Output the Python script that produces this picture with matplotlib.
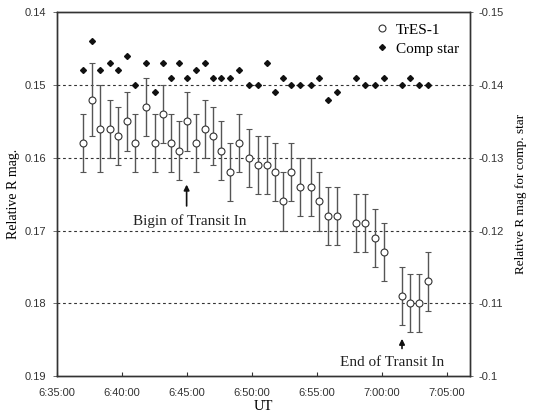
import matplotlib
matplotlib.use('Agg')
import matplotlib.pyplot as plt
from matplotlib.lines import Line2D

# Observation times (UT)
times = ['6:37:03', '6:37:43', '6:38:20', '6:39:07', '6:39:43', '6:40:23', '6:41:03',
         '6:41:52', '6:42:32', '6:43:11', '6:43:46', '6:44:24', '6:45:04', '6:45:43',
         '6:46:23', '6:47:01', '6:47:40', '6:48:20', '6:49:00', '6:49:49', '6:50:29',
         '6:51:09', '6:51:46', '6:52:23', '6:53:00', '6:53:42', '6:54:35', '6:55:13',
         '6:55:53', '6:56:34', '6:58:03', '6:58:42', '6:59:29', '7:00:11', '7:01:34',
         '7:02:13', '7:02:52', '7:03:32']

# TrES-1 relative R magnitude and error
tres_mag = [0.158, 0.152, 0.156, 0.156, 0.157, 0.155, 0.158, 0.153, 0.158, 0.154,
            0.158, 0.159, 0.155, 0.158, 0.156, 0.157, 0.159, 0.162, 0.158, 0.160,
            0.161, 0.161, 0.162, 0.166, 0.162, 0.164, 0.164, 0.166, 0.168, 0.168,
            0.169, 0.169, 0.171, 0.173, 0.179, 0.180, 0.180, 0.177]
tres_err = [0.004, 0.005, 0.006, 0.004, 0.004, 0.004, 0.004, 0.004, 0.004, 0.004,
            0.004, 0.004, 0.004, 0.004, 0.004, 0.004, 0.004, 0.004, 0.004, 0.004,
            0.004, 0.004, 0.004, 0.004, 0.004, 0.004, 0.004, 0.004, 0.004, 0.004,
            0.004, 0.004, 0.004, 0.004, 0.004, 0.004, 0.004, 0.004]

# Comparison star relative R magnitude (right axis)
comp_mag = [-0.142, -0.146, -0.142, -0.143, -0.142, -0.144, -0.140, -0.143, -0.139, -0.143,
            -0.141, -0.143, -0.141, -0.142, -0.143, -0.141, -0.141, -0.141, -0.142, -0.140,
            -0.140, -0.143, -0.139, -0.141, -0.140, -0.140, -0.140, -0.141, -0.138, -0.139,
            -0.141, -0.140, -0.140, -0.141, -0.140, -0.141, -0.140, -0.140]

x_ticks = ['6:35:00', '6:40:00', '6:45:00', '6:50:00', '6:55:00', '7:00:00', '7:05:00']
left_ticks = [0.14, 0.15, 0.16, 0.17, 0.18, 0.19]
right_ticks = [-0.15, -0.14, -0.13, -0.12, -0.11, -0.1]


def to_minutes(s):
    # minutes after 6:35:00
    h, m, sec = [int(v) for v in s.split(':')]
    return (h * 60 + m + sec / 60.0) - (6 * 60 + 35)


x = [to_minutes(t) for t in times]
xt = [to_minutes(t) for t in x_ticks]

serif = 'Liberation Serif'
sans = 'Liberation Sans'

fig = plt.figure(figsize=(5.34, 4.13), dpi=100)
ax = fig.add_axes([0.106, 0.0896, 0.774, 0.8806])
ax2 = ax.twinx()

ax.errorbar(x, tres_mag, yerr=tres_err, fmt='o', mfc='white', mec='#333333',
            ms=5, mew=0.8, ecolor='#555555', elinewidth=1.0, capsize=2.5,
            capthick=1.0, zorder=3)
ax2.plot(x, comp_mag, 'D', color='#111111', ms=3, zorder=3)

ax.set_xlim(0, 31.79)
ax.set_ylim(0.19, 0.14)
ax2.set_ylim(-0.10, -0.15)

for v in left_ticks[1:-1]:
    ax.axhline(v, color='#333333', lw=0.8, ls=(0, (2.5, 2.5)), zorder=1)

ax.set_xticks(xt)
ax.set_xticklabels(x_ticks, fontfamily=sans, fontsize=8, color='#333333')
ax.set_yticks(left_ticks)
ax.set_yticklabels([f'{v:.2f}' for v in left_ticks], fontfamily=sans, fontsize=8, color='#333333')
ax2.set_yticks(right_ticks)
ax2.set_yticklabels(['-0.15', '-0.14', '-0.13', '-0.12', '-0.11', '-0.1'],
                    fontfamily=sans, fontsize=8, color='#333333')

ax.tick_params(axis='x', direction='in', length=3, pad=9, color='#333333')
ax.tick_params(axis='y', direction='out', length=3, width=0.6, pad=4.5, color='#555555')
ax2.tick_params(axis='y', direction='out', length=2, width=0.6, pad=4, color='#555555')

for a in (ax, ax2):
    for sp in a.spines.values():
        sp.set_color('#333333')
        sp.set_linewidth(1.0)

ax.set_xlabel('UT', fontfamily=serif, fontsize=10.5, labelpad=1)
ax.set_ylabel('Relative R mag.', fontfamily=serif, fontsize=10, labelpad=3)
ax2.set_ylabel('Relative R mag for comp. star', fontfamily=serif, fontsize=9.5, labelpad=8)

# Annotations
ax.annotate('', xy=(to_minutes('6:45:00'), 0.1633), xytext=(to_minutes('6:45:00'), 0.1670),
            arrowprops=dict(arrowstyle='-|>', color='#111111', lw=1.2, mutation_scale=8))
ax.text(to_minutes('6:45:15'), 0.1687, 'Bigin of Transit In', ha='center', va='center',
        fontfamily=serif, fontsize=11, color='#222222')
ax.annotate('', xy=(to_minutes('7:01:34'), 0.1845), xytext=(to_minutes('7:01:34'), 0.1866),
            arrowprops=dict(arrowstyle='-|>', color='#111111', lw=1.2, mutation_scale=8))
ax.text(to_minutes('7:00:48'), 0.1882, 'End of Transit In', ha='center', va='center',
        fontfamily=serif, fontsize=11, color='#222222')

handles = [Line2D([], [], ls='none', marker='o', mfc='white', mec='#333333', ms=5, mew=0.8),
           Line2D([], [], ls='none', marker='D', color='#111111', ms=3)]
leg = ax2.legend(handles, ['TrES-1', 'Comp star'], loc='upper right', frameon=False,
                 prop={'family': serif, 'size': 11}, handlelength=0.8, handletextpad=0.5,
                 labelspacing=0.35, borderaxespad=0.3)

fig.savefig('out.png', dpi=100)
